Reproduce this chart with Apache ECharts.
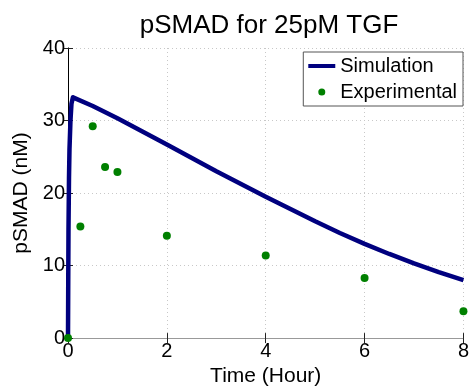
<!DOCTYPE html>
<html>
<head>
<meta charset="utf-8">
<script src="https://cdn.jsdelivr.net/npm/echarts@6/dist/echarts.min.js"></script>
<style>
	html, body { margin: 0; padding: 0; background: #fff; }
	#chart { width: 472px; height: 392px; }
</style>
</head>
<body>
<div id="chart"></div>
<script>
// simulation curve (time in hours, pSMAD in nM)
var simTime = [0, 0.005, 0.01, 0.02, 0.03, 0.05, 0.07, 0.1, 0.5, 1, 2, 3, 4, 4.5, 5, 5.5, 6, 6.5, 7, 7.5, 8];
var simValue = [0, 8, 15, 22, 26, 30, 32.3, 33.2, 32.0, 30.3, 26.7, 23.0, 19.5, 17.8, 16.1, 14.5, 13.0, 11.6, 10.3, 9.1, 8.0];

// experimental points
var expTime = [0, 0.25, 0.5, 0.75, 1, 2, 4, 6, 8];
var expValue = [0, 15.4, 29.2, 23.6, 22.9, 14.1, 11.4, 8.3, 3.7];

var xTicks = [0, 2, 4, 6, 8];
var yTicks = [0, 10, 20, 30, 40];

window.onload = function () {
	var font = "'Liberation Sans', Arial, sans-serif";
	var chart = echarts.init(document.getElementById('chart'));

	var simData = [];
	for (var i = 0; i < simTime.length; i++) {
		simData.push([simTime[i], simValue[i]]);
	}
	var expData = [];
	for (var j = 0; j < expTime.length; j++) {
		expData.push([expTime[j], expValue[j]]);
	}

	var gridLine = { show: true, lineStyle: { color: '#c8c8c8', type: [1, 3], width: 1 } };
	var tick = { show: true, inside: true, length: 5, lineStyle: { color: '#222' } };

	var option = {
		backgroundColor: '#fff',
		animation: false,
		title: {
			text: 'pSMAD for 25pM TGF',
			left: 264,
			textAlign: 'center',
			top: 8,
			textStyle: { fontFamily: font, fontSize: 26, fontWeight: 'normal', color: '#000' }
		},
		legend: {
			orient: 'vertical',
			right: 9,
			top: 52,
			padding: [4, 6, 4, 5],
			itemGap: 6,
			itemWidth: 27,
			itemHeight: 7,
			backgroundColor: '#fff',
			borderColor: '#555',
			borderWidth: 1,
			borderRadius: 0,
			textStyle: { fontFamily: font, fontSize: 20, color: '#000' },
			data: [
				{ name: 'Simulation', icon: 'path://M0,0H27V4H0Z' },
				{ name: 'Experimental', icon: 'circle' }
			]
		},
		grid: { left: 68, right: 7, top: 48, bottom: 50 },
		xAxis: [{
			type: 'value',
			min: 0, max: 8, interval: 2,
			name: 'Time (Hour)',
			nameLocation: 'middle',
			nameGap: 24,
			nameTextStyle: { fontFamily: font, fontSize: 21, color: '#000', verticalAlign: 'top' },
			axisLine: { show: true, lineStyle: { color: '#000' } },
			axisTick: tick,
			axisLabel: { fontFamily: font, fontSize: 20, color: '#000', margin: 3 },
			splitLine: gridLine
		}, {
			type: 'value',
			position: 'top',
			min: 0, max: 8, interval: 2,
			axisLine: { show: true, lineStyle: { color: '#999' } },
			axisTick: tick,
			axisLabel: { show: false },
			splitLine: { show: false }
		}],
		yAxis: [{
			type: 'value',
			min: 0, max: 40, interval: 10,
			name: 'pSMAD (nM)',
			nameLocation: 'middle',
			nameGap: 19,
			nameTextStyle: { fontFamily: font, fontSize: 21, color: '#000' },
			axisLine: { show: true, lineStyle: { color: '#999' } },
			axisTick: tick,
			axisLabel: { fontFamily: font, fontSize: 20, color: '#000', margin: 3 },
			splitLine: gridLine
		}, {
			type: 'value',
			position: 'right',
			min: 0, max: 40, interval: 10,
			axisLine: { show: true, lineStyle: { color: '#000' } },
			axisTick: tick,
			axisLabel: { show: false },
			splitLine: { show: false }
		}],
		series: [{
			name: 'Simulation',
			type: 'line',
			data: simData,
			showSymbol: false,
			symbol: 'none',
			lineStyle: { color: '#00007f', width: 4.5, join: 'round' },
			itemStyle: { color: '#00007f' },
			z: 3
		}, {
			name: 'Experimental',
			type: 'scatter',
			data: expData,
			symbol: 'circle',
			symbolSize: 8,
			itemStyle: { color: '#008000', opacity: 1 },
			z: 4
		}]
	};
	chart.setOption(option);
};
</script>
</body>
</html>
